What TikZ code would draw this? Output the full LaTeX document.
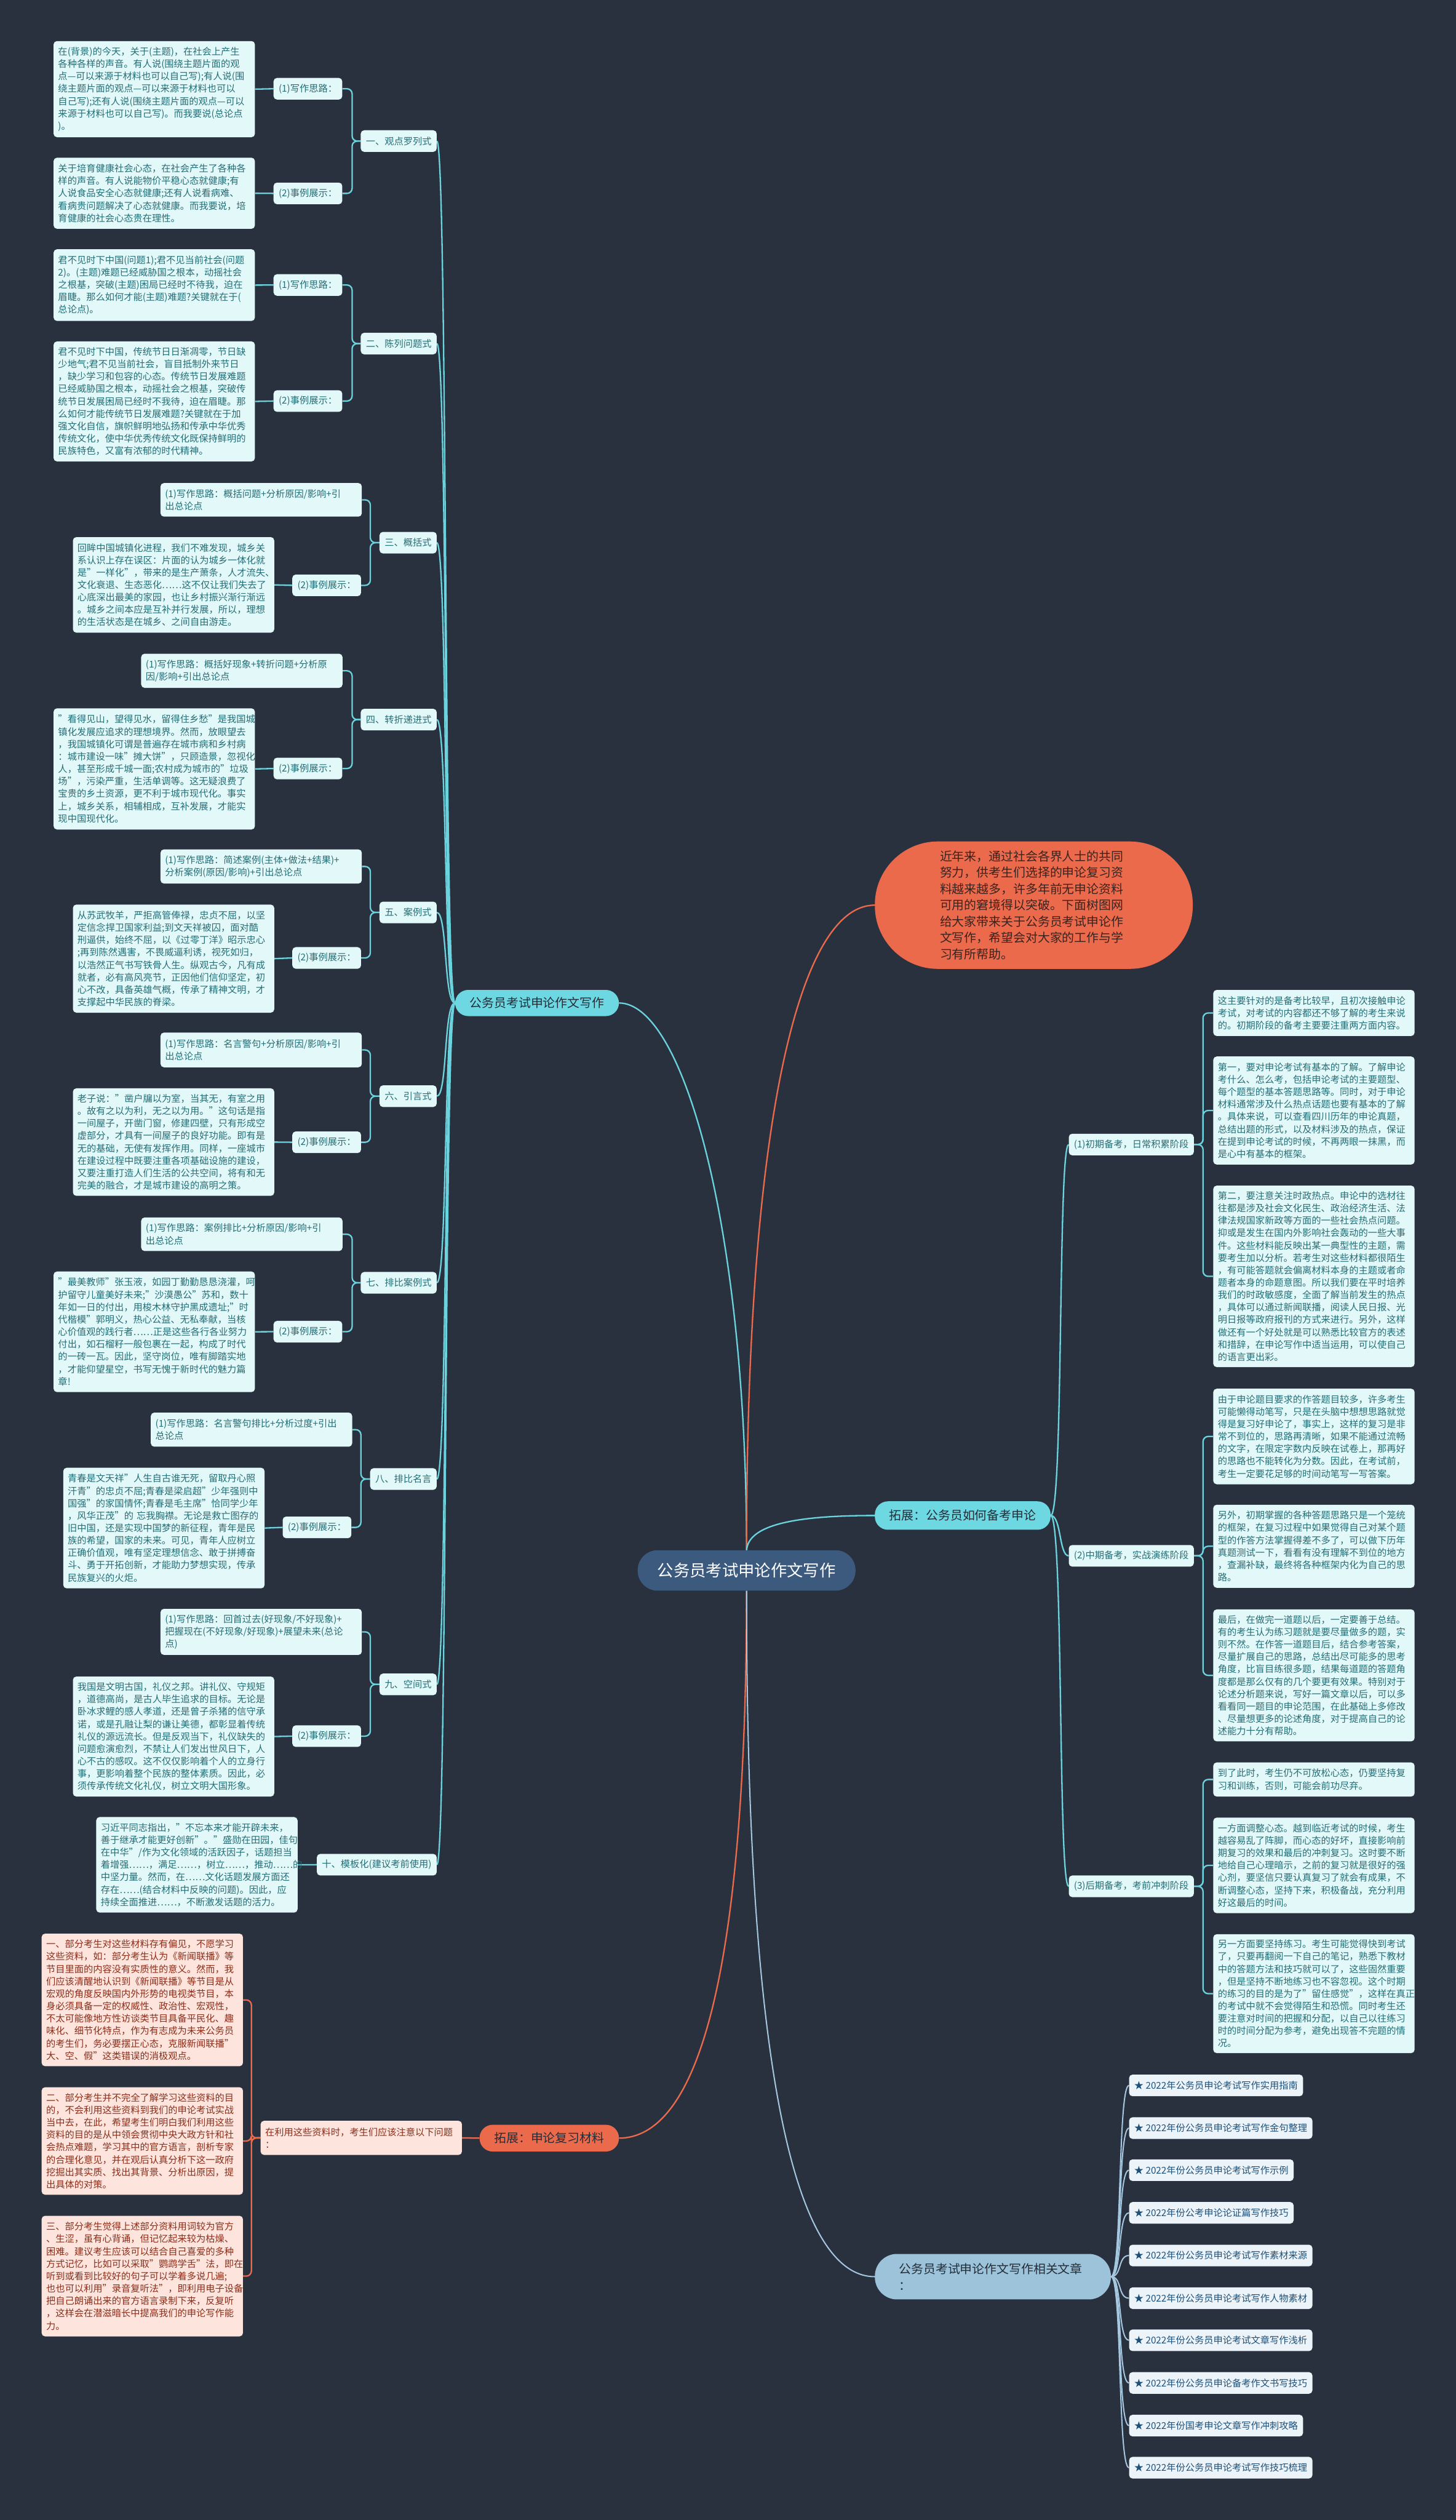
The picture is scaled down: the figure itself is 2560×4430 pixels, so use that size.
\documentclass[tikz,border=0pt]{standalone}
\usepackage{fontspec}
\setmainfont{Noto Sans CJK SC}
\definecolor{bgc}{RGB}{41,49,63}
\definecolor{cyanl}{RGB}{107,211,221}
\definecolor{cyanf}{RGB}{110,216,226}
\definecolor{leaff}{RGB}{226,248,249}
\definecolor{leaft}{RGB}{36,110,118}
\definecolor{pinkf}{RGB}{253,229,222}
\definecolor{pinkt}{RGB}{140,45,25}
\definecolor{orng}{RGB}{236,106,76}
\definecolor{rootf}{RGB}{60,90,126}
\definecolor{bluef}{RGB}{157,195,219}
\definecolor{bluel}{RGB}{165,200,224}
\definecolor{artf}{RGB}{236,244,250}
\definecolor{artt}{RGB}{30,80,120}
\definecolor{darkt}{RGB}{35,45,55}
\definecolor{bubt}{RGB}{58,35,30}
\newcommand\myfs[2]{\fontsize{#1pt}{#2pt}\selectfont}
\pgfdeclarelayer{back}
\pgfdeclarelayer{lines}
\pgfsetlayers{back,lines,main}
\hbadness=10000 \hfuzz=300pt \vbadness=10000
\tikzset{
 leaf/.style={fill=leaff, text=leaft, rounded corners=6pt, inner xsep=8pt, inner ysep=0pt, text width=338pt, align=left, font=\myfs{16.5}{21.8}, anchor=north west},
 pleaf/.style={leaf, fill=pinkf, text=pinkt},
 lab/.style={fill=leaff, text=leaft, rounded corners=6pt, inner xsep=9pt, inner ysep=0pt, minimum height=38pt, font=\myfs{16.5}{20}, anchor=east},
 rlab/.style={lab, anchor=west},
 art/.style={fill=artf, text=artt, rounded corners=6pt, inner xsep=9pt, inner ysep=0pt, minimum height=38pt, font=\myfs{16.5}{20}, anchor=west},
 l1c/.style={fill=cyanf, text=darkt, rounded corners=23pt, inner sep=0pt, font=\myfs{21.5}{26}, anchor=north west},
 l1o/.style={l1c, fill=orng},
 l1b/.style={fill=bluef, text=darkt, rounded corners=39pt, inner sep=0pt, minimum width=415pt, minimum height=80pt, text width=330pt, align=left, font=\myfs{21.5}{30}, anchor=north west},
 rootn/.style={fill=rootf, text=white, rounded corners=35pt, inner sep=0pt, minimum width=383pt, minimum height=71pt, font=\myfs{28.5}{32}, anchor=north west},
 bubble/.style={fill=orng, text=bubt, rounded corners=111pt, inner sep=0pt, minimum width=559pt, minimum height=224pt, text width=330pt, align=left, font=\myfs{21.5}{28.7}, anchor=north west},
 cl/.style={draw=cyanl, line width=2.5pt},
 ol/.style={draw=orng, line width=2.5pt},
 bl/.style={draw=bluel, line width=2.2pt},
 elbow/.style={cl, rounded corners=9pt},
}
\begin{document}
\begin{tikzpicture}[x=1pt,y=-1pt]
\begin{pgfonlayer}{back}
\fill[bgc] (0,0) rectangle (2560,4430);
\end{pgfonlayer}
\useasboundingbox (0,0) rectangle (2560,4430);

% ---------- root ----------
\node[rootn] (ROOT) at (1121,2725) {公务员考试申论作文写作};

% ---------- left branch ----------
\node[l1c, minimum width=288pt, minimum height=46pt] (LA) at (800,1740) {公务员考试申论作文写作};

\node[lab] (n1) at (768,248) {一、观点罗列式};
\node[lab] (n2) at (768,604) {二、陈列问题式};
\node[lab] (n3) at (768,954) {三、概括式};
\node[lab] (n4) at (768,1265) {四、转折递进式};
\node[lab] (n5) at (768,1604) {五、案例式};
\node[lab] (n6) at (768,1927) {六、引言式};
\node[lab] (n7) at (768,2255) {七、排比案例式};
\node[lab] (n8) at (768,2600) {八、排比名言};
\node[lab] (n9) at (768,2961) {九、空间式};
\node[lab] (n10) at (768,3278) {十、模板化(建议考前使用)};

\node[lab] (n1a) at (602,156) {(1)写作思路：};
\node[lab] (n1b) at (602,340) {(2)事例展示：};
\node[leaf, minimum height=169pt] (A1) at (94,72) {在(背景)的今天，关于(主题)，在社会上产生\\各种各样的声音。有人说(围绕主题片面的观\\点—可以来源于材料也可以自己写);有人说(围\\绕主题片面的观点—可以来源于材料也可以\\自己写);还有人说(围绕主题片面的观点—可以\\来源于材料也可以自己写)。而我要说(总论点\\)。};
\node[leaf, minimum height=125pt] (A2) at (94,277) {关于培育健康社会心态，在社会产生了各种各\\样的声音。有人说能物价平稳心态就健康;有\\人说食品安全心态就健康;还有人说看病难、\\看病贵问题解决了心态就健康。而我要说，培\\育健康的社会心态贵在理性。};

\node[lab] (n2a) at (602,501) {(1)写作思路：};
\node[lab] (n2b) at (602,705) {(2)事例展示：};
\node[leaf, minimum height=126pt] (B1) at (94,438) {君不见时下中国(问题1);君不见当前社会(问题\\2)。(主题)难题已经威胁国之根本，动摇社会\\之根基，突破(主题)困局已经时不待我，迫在\\眉睫。那么如何才能(主题)难题?关键就在于(\\总论点)。};
\node[leaf, minimum height=211pt] (B2) at (94,600) {君不见时下中国，传统节日日渐凋零，节日缺\\少地气;君不见当前社会，盲目抵制外来节日\\，缺少学习和包容的心态。传统节日发展难题\\已经威胁国之根本，动摇社会之根基，突破传\\统节日发展困局已经时不我待，迫在眉睫。那\\么如何才能传统节日发展难题?关键就在于加\\强文化自信，旗帜鲜明地弘扬和传承中华优秀\\传统文化，使中华优秀传统文化既保持鲜明的\\民族特色，又富有浓郁的时代精神。};

\node[leaf, minimum height=59pt] (C1) at (282,849) {(1)写作思路：概括问题+分析原因/影响+引\\出总论点};
\node[lab] (n3b) at (635,1029) {(2)事例展示：};
\node[leaf, minimum height=168pt] (C2) at (128,944) {回眸中国城镇化进程，我们不难发现，城乡关\\系认识上存在误区：片面的认为城乡一体化就\\是"一样化"，带来的是生产萧条，人才流失、\\文化衰退、生态恶化……这不仅让我们失去了\\心底深出最美的家园，也让乡村振兴渐行渐远\\。城乡之间本应是互补并行发展，所以，理想\\的生活状态是在城乡、之间自由游走。};

\node[leaf, minimum height=60pt] (D1) at (248,1149) {(1)写作思路：概括好现象+转折问题+分析原\\因/影响+引出总论点};
\node[lab] (n4b) at (602,1351) {(2)事例展示：};
\node[leaf, minimum height=213pt] (D2) at (94,1245) {"看得见山，望得见水，留得住乡愁"是我国城\\镇化发展应追求的理想境界。然而，放眼望去\\，我国城镇化可谓是普遍存在城市病和乡村病\\：城市建设一味"摊大饼"，只顾造景，忽视化\\人，甚至形成千城一面;农村成为城市的"垃圾\\场"，污染严重，生活单调等。这无疑浪费了\\宝贵的乡土资源，更不利于城市现代化。事实\\上，城乡关系，相辅相成，互补发展，才能实\\现中国现代化。};

\node[leaf, minimum height=60pt] (E1) at (282,1493) {(1)写作思路：简述案例(主体+做法+结果)+\\分析案例(原因/影响)+引出总论点};
\node[lab] (n5b) at (635,1684) {(2)事例展示：};
\node[leaf, minimum height=190pt] (E2) at (128,1590) {从苏武牧羊，严拒高管俸禄，忠贞不屈，以坚\\定信念捍卫国家利益;到文天祥被囚，面对酷\\刑逼供，始终不屈，以《过零丁洋》昭示忠心\\;再到陈然遇害，不畏威逼利诱，视死如归，\\以浩然正气书写铁骨人生。纵观古今，凡有成\\就者，必有高风亮节，正因他们信仰坚定，初\\心不改，具备英雄气概，传承了精神文明，才\\支撑起中华民族的脊梁。};

\node[leaf, minimum height=61pt] (F1) at (282,1815) {(1)写作思路：名言警句+分析原因/影响+引\\出总论点};
\node[lab] (n6b) at (635,2008) {(2)事例展示：};
\node[leaf, minimum height=189pt] (F2) at (128,1913) {老子说："凿户牖以为室，当其无，有室之用\\。故有之以为利，无之以为用。"这句话是指\\一间屋子，开凿门窗，修建四壁，只有形成空\\虚部分，才具有一间屋子的良好功能。即有是\\无的基础，无使有发挥作用。同样，一座城市\\在建设过程中既要注重各项基础设施的建设，\\又要注重打造人们生活的公共空间，将有和无\\完美的融合，才是城市建设的高明之策。};

\node[leaf, minimum height=59pt] (G1) at (248,2140) {(1)写作思路：案例排比+分析原因/影响+引\\出总论点};
\node[lab] (n7b) at (602,2341) {(2)事例展示：};
\node[leaf, minimum height=212pt] (G2) at (94,2235) {"最美教师"张玉液，如园丁勤勤恳恳浇灌，呵\\护留守儿童美好未来;"沙漠愚公"苏和，数十\\年如一日的付出，用梭木林守护黑成遗址;"时\\代楷模"郭明义，热心公益、无私奉献，当核\\心价值观的践行者……正是这些各行各业努力\\付出，如石榴籽一般包裹在一起，构成了时代\\的一砖一瓦。因此，坚守岗位，唯有脚踏实地\\，才能仰望星空，书写无愧于新时代的魅力篇\\章!};

\node[leaf, minimum height=60pt] (H1) at (265,2483) {(1)写作思路：名言警句排比+分析过度+引出\\总论点};
\node[lab] (n8b) at (618,2685) {(2)事例展示：};
\node[leaf, minimum height=212pt] (H2) at (111,2580) {青春是文天祥"人生自古谁无死，留取丹心照\\汗青"的忠贞不屈;青春是梁启超"少年强则中\\国强"的家国情怀;青春是毛主席"恰同学少年\\，风华正茂"的 忘我胸襟。无论是救亡图存的\\旧中国，还是实现中国梦的新征程，青年是民\\族的希望，国家的未来。可见，青年人应树立\\正确价值观，唯有坚定理想信念、敢于拼搏奋\\斗、勇于开拓创新，才能助力梦想实现，传承\\民族复兴的火炬。};

\node[leaf, minimum height=81pt] (I1) at (282,2828) {(1)写作思路：回首过去(好现象/不好现象)+\\把握现在(不好现象/好现象)+展望未来(总论\\点)};
\node[lab] (n9b) at (635,3052) {(2)事例展示：};
\node[leaf, minimum height=211pt] (I2) at (128,2947) {我国是文明古国，礼仪之邦。讲礼仪、守规矩\\，道德高尚，是古人毕生追求的目标。无论是\\卧冰求鲤的感人孝道，还是曾子杀猪的信守承\\诺，或是孔融让梨的谦让美德，都彰显着传统\\礼仪的源远流长。但是反观当下，礼仪缺失的\\问题愈演愈烈，不禁让人们发出世风日下，人\\心不古的感叹。这不仅仅影响着个人的立身行\\事，更影响着整个民族的整体素质。因此，必\\须传承传统文化礼仪，树立文明大国形象。};

\node[leaf, minimum height=168pt] (J1) at (169,3194) {习近平同志指出，"不忘本来才能开辟未来，\\善于继承才能更好创新"。"盛勋在田园，佳句\\在中华"/作为文化领域的活跃因子，话题担当\\着增强……，满足……，树立……，推动……的\\中坚力量。然而，在……文化话题发展方面还\\存在……(结合材料中反映的问题)。因此，应\\持续全面推进……，不断激发话题的活力。};

% ---------- pink branch ----------
\node[l1o, minimum width=245pt, minimum height=47pt] (LC) at (843,3735) {拓展：申论复习材料};
\node[pleaf, minimum height=60pt] (P0) at (458,3728) {在利用这些资料时，考生们应该注意以下问题\\：};
\node[pleaf, minimum height=233pt] (K1) at (73,3399) {一、部分考生对这些材料存有偏见，不愿学习\\这些资料，如：部分考生认为《新闻联播》等\\节目里面的内容没有实质性的意义。然而，我\\们应该清醒地认识到《新闻联播》等节目是从\\宏观的角度反映国内外形势的电视类节目，本\\身必须具备一定的权威性、政治性、宏观性，\\不太可能像地方性访谈类节目具备平民化、趣\\味化、细节化特点，作为有志成为未来公务员\\的考生们，务必要摆正心态，克服新闻联播"\\大、空、假"这类错误的消极观点。};
\node[pleaf, minimum height=189pt] (K2) at (73,3669) {二、部分考生并不完全了解学习这些资料的目\\的，不会利用这些资料到我们的申论考试实战\\当中去，在此，希望考生们明白我们利用这些\\资料的目的是从中领会贯彻中央大政方针和社\\会热点难题，学习其中的官方语言，剖析专家\\的合理化意见，并在观后认真分析下这一政府\\挖掘出其实质、找出其背景、分析出原因，提\\出具体的对策。};
\node[pleaf, minimum height=212pt] (K3) at (73,3895) {三、部分考生觉得上述部分资料用词较为官方\\、生涩，虽有心背诵，但记忆起来较为枯燥、\\困难。建议考生应该可以结合自己喜爱的多种\\方式记忆，比如可以采取"鹦鹉学舌"法，即在\\听到或看到比较好的句子可以学着多说几遍;\\也也可以利用"录音复听法"，即利用电子设备\\把自己朗诵出来的官方语言录制下来，反复听\\，这样会在潜滋暗长中提高我们的申论写作能\\力。};

% ---------- intro bubble ----------
\node[bubble] (INT) at (1538,1479) {近年来，通过社会各界人士的共同\\努力，供考生们选择的申论复习资\\料越来越多，许多年前无申论资料\\可用的窘境得以突破。下面树图网\\给大家带来关于公务员考试申论作\\文写作，希望会对大家的工作与学\\习有所帮助。};

% ---------- right branch ----------
\node[l1c, minimum width=309pt, minimum height=50pt] (LB) at (1538,2639) {拓展：公务员如何备考申论};
\node[rlab] (r1) at (1879,2012) {(1)初期备考，日常积累阶段};
\node[rlab] (r2) at (1879,2735) {(2)中期备考，实战演练阶段};
\node[rlab] (r3) at (1879,3316) {(3)后期备考，考前冲刺阶段};

\node[leaf, minimum height=81pt] (R1a) at (2133,1740) {这主要针对的是备考比较早，且初次接触申论\\考试，对考试的内容都还不够了解的考生来说\\的。初期阶段的备考主要要注重两方面内容。};
\node[leaf, minimum height=190pt] (R1b) at (2133,1857) {第一，要对申论考试有基本的了解。了解申论\\考什么、怎么考，包括申论考试的主要题型、\\每个题型的基本答题思路等。同时，对于申论\\材料通常涉及什么热点话题也要有基本的了解\\。具体来说，可以查看四川历年的申论真题，\\总结出题的形式，以及材料涉及的热点，保证\\在提到申论考试的时候，不再两眼一抹黑，而\\是心中有基本的框架。};
\node[leaf, minimum height=319pt] (R1c) at (2133,2084) {第二，要注意关注时政热点。申论中的选材往\\往都是涉及社会文化民生、政治经济生活、法\\律法规国家新政等方面的一些社会热点问题。\\抑或是发生在国内外影响社会轰动的一些大事\\件。这些材料能反映出某一典型性的主题，需\\要考生加以分析。若考生对这些材料都很陌生\\，有可能答题就会偏离材料本身的主题或者命\\题者本身的命题意图。所以我们要在平时培养\\我们的时政敏感度，全面了解当前发生的热点\\，具体可以通过新闻联播，阅读人民日报、光\\明日报等政府报刊的方式来进行。另外，这样\\做还有一个好处就是可以熟悉比较官方的表述\\和措辞，在申论写作中适当运用，可以使自己\\的语言更出彩。};

\node[leaf, minimum height=168pt] (R2a) at (2133,2441) {由于申论题目要求的作答题目较多，许多考生\\可能懒得动笔写，只是在头脑中想想思路就觉\\得是复习好申论了，事实上，这样的复习是非\\常不到位的，思路再清晰，如果不能通过流畅\\的文字，在限定字数内反映在试卷上，那再好\\的思路也不能转化为分数。因此，在考试前，\\考生一定要花足够的时间动笔写一写答案。};
\node[leaf, minimum height=146pt] (R2b) at (2133,2645) {另外，初期掌握的各种答题思路只是一个笼统\\的框架，在复习过程中如果觉得自己对某个题\\型的作答方法掌握得差不多了，可以做下历年\\真题测试一下，看看有没有理解不到位的地方\\，查漏补缺，最终将各种框架内化为自己的思\\路。};
\node[leaf, minimum height=232pt] (R2c) at (2133,2829) {最后，在做完一道题以后，一定要善于总结。\\有的考生认为练习题就是要尽量做多的题，实\\则不然。在作答一道题目后，结合参考答案，\\尽量扩展自己的思路，总结出尽可能多的思考\\角度，比盲目练很多题，结果每道题的答题角\\度都是那么仅有的几个要更有效果。特别对于\\论述分析题来说，写好一篇文章以后，可以多\\看看同一题目的申论范围，在此基础上多修改\\、尽量想更多的论述角度，对于提高自己的论\\述能力十分有帮助。};

\node[leaf, minimum height=60pt] (R3a) at (2133,3098) {到了此时，考生仍不可放松心态，仍要坚持复\\习和训练，否则，可能会前功尽弃。};
\node[leaf, minimum height=168pt] (R3b) at (2133,3195) {一方面调整心态。越到临近考试的时候，考生\\越容易乱了阵脚，而心态的好坏，直接影响前\\期复习的效果和最后的冲刺复习。这时要不断\\地给自己心理暗示，之前的复习就是很好的强\\心剂，要坚信只要认真复习了就会有成果，不\\断调整心态，坚持下来，积极备战，充分利用\\好这最后的时间。};
\node[leaf, minimum height=209pt] (R3c) at (2133,3400) {另一方面要坚持练习。考生可能觉得快到考试\\了，只要再翻阅一下自己的笔记，熟悉下教材\\中的答题方法和技巧就可以了，这些固然重要\\，但是坚持不断地练习也不容忽视。这个时期\\的练习的目的是为了"留住感觉"，这样在真正\\的考试中就不会觉得陌生和恐慌。同时考生还\\要注意对时间的把握和分配，以自己以往练习\\时的时间分配为参考，避免出现答不完题的情\\况。};

% ---------- related articles ----------
\node[l1b] (LD) at (1538,3962) {公务员考试申论作文写作相关文章\\：};
\node[art] (T1) at (1985,3666) {★ 2022年公务员申论考试写作实用指南};
\node[art] (T2) at (1985,3741) {★ 2022年份公务员申论考试写作金句整理};
\node[art] (T3) at (1985,3815) {★ 2022年份公务员申论考试写作示例};
\node[art] (T4) at (1985,3890) {★ 2022年份公考申论论证篇写作技巧};
\node[art] (T5) at (1985,3965) {★ 2022年份公务员申论考试写作素材来源};
\node[art] (T6) at (1985,4040) {★ 2022年份公务员申论考试写作人物素材};
\node[art] (T7) at (1985,4114) {★ 2022年份公务员申论考试文章写作浅析};
\node[art] (T8) at (1985,4189) {★ 2022年份公务员申论备考作文书写技巧};
\node[art] (T9) at (1985,4264) {★ 2022年份国考申论文章写作冲刺攻略};
\node[art] (T10) at (1985,4338) {★ 2022年份公务员申论考试写作技巧梳理};

% ---------- connectors ----------
\begin{pgfonlayer}{lines}
% root
\draw[cl] (ROOT.north) .. controls (1312,2150) and (1200,1763) .. (LA.east);
\draw[ol] (ROOT.north) .. controls (1312,2000) and (1400,1591) .. (INT.west);
\draw[cl] (ROOT.north) .. controls (1316,2680) and (1400,2664) .. (LB.west);
\draw[ol] (ROOT.south) .. controls (1312,3500) and (1220,3758) .. (LC.east);
\draw[bl] (ROOT.south) .. controls (1312,3650) and (1400,4002) .. (LD.west);
% left trunk
\foreach \n/\y in {n1/248,n2/604,n3/954,n4/1265,n5/1604,n6/1927,n7/2255,n8/2600,n9/2961,n10/3278}
  \draw[cl] (LA.west) .. controls (780,1763) and (787,\y) .. (\n.east);
% elbows
\draw[elbow] (n1.west) -- ++(-15,0) |- (n1a.east);
\draw[elbow] (n1.west) -- ++(-15,0) |- (n1b.east);
\draw[elbow] (n2.west) -- ++(-15,0) |- (n2a.east);
\draw[elbow] (n2.west) -- ++(-15,0) |- (n2b.east);
\draw[elbow] (n3.west) -- ++(-16,0) |- (C1.east);
\draw[elbow] (n3.west) -- ++(-16,0) |- (n3b.east);
\draw[elbow] (n4.west) -- ++(-15,0) |- (D1.east);
\draw[elbow] (n4.west) -- ++(-15,0) |- (n4b.east);
\draw[elbow] (n5.west) -- ++(-16,0) |- (E1.east);
\draw[elbow] (n5.west) -- ++(-16,0) |- (n5b.east);
\draw[elbow] (n6.west) -- ++(-16,0) |- (F1.east);
\draw[elbow] (n6.west) -- ++(-16,0) |- (n6b.east);
\draw[elbow] (n7.west) -- ++(-15,0) |- (G1.east);
\draw[elbow] (n7.west) -- ++(-15,0) |- (n7b.east);
\draw[elbow] (n8.west) -- ++(-16,0) |- (H1.east);
\draw[elbow] (n8.west) -- ++(-16,0) |- (n8b.east);
\draw[elbow] (n9.west) -- ++(-16,0) |- (I1.east);
\draw[elbow] (n9.west) -- ++(-16,0) |- (n9b.east);
\draw[cl] (n10.west) -- (J1.east);
% leaves
\draw[cl] (n1a.west) -- (A1.east);
\draw[cl] (n1b.west) -- (A2.east);
\draw[cl] (n2a.west) -- (B1.east);
\draw[cl] (n2b.west) -- (B2.east);
\draw[cl] (n3b.west) -- (C2.east);
\draw[cl] (n4b.west) -- (D2.east);
\draw[cl] (n5b.west) -- (E2.east);
\draw[cl] (n6b.west) -- (F2.east);
\draw[cl] (n7b.west) -- (G2.east);
\draw[cl] (n8b.west) -- (H2.east);
\draw[cl] (n9b.west) -- (I2.east);
% pink
\draw[ol] (LC.west) -- (P0.east);
\draw[ol, rounded corners=9pt] (P0.west) -- ++(-16,0) |- (K1.east);
\draw[ol, rounded corners=9pt] (P0.west) -- ++(-16,0) |- (K2.east);
\draw[ol, rounded corners=9pt] (P0.west) -- ++(-16,0) |- (K3.east);
% right
\draw[cl] (LB.east) .. controls (1870,2664) and (1860,2012) .. (r1.west);
\draw[cl] (LB.east) .. controls (1866,2664) and (1862,2735) .. (r2.west);
\draw[cl] (LB.east) .. controls (1870,2664) and (1860,3316) .. (r3.west);
\foreach \a/\b in {r1/R1a,r1/R1b,r1/R1c,r2/R2a,r2/R2b,r2/R2c,r3/R3a,r3/R3b,r3/R3c}
  \draw[elbow] (\a.east) -- ++(16,0) |- (\b.west);
% articles
\foreach \t/\y in {T1/3666,T2/3741,T3/3815,T4/3890,T5/3965,T6/4040,T7/4114,T8/4189,T9/4264,T10/4338}
  \draw[bl] (LD.east) .. controls (1973,4002) and (1965,\y) .. (\t.west);
\end{pgfonlayer}
\end{tikzpicture}
\end{document}
